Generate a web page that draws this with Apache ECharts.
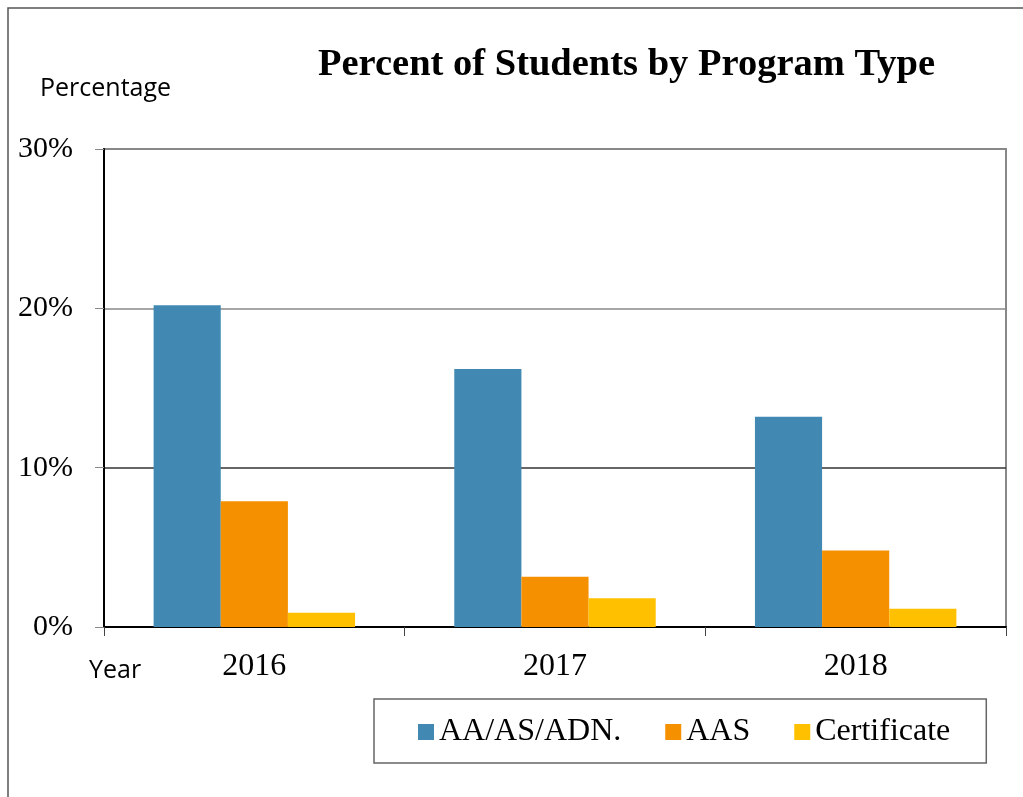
<!DOCTYPE html>
<html>
<head>
<meta charset="utf-8">
<script src="https://cdn.jsdelivr.net/npm/echarts@6/dist/echarts.min.js"></script>
<style>
  html, body { margin: 0; padding: 0; background: #fff; }
  #chart { width: 1023px; height: 797px; }
</style>
</head>
<body>
<div id="chart"></div>
<script>
// data (percent)
var years = ["2016", "2017", "2018"];
var aaAsAdn = [20.2, 16.2, 13.2];
var aas = [7.9, 3.15, 4.8];
var certificate = [0.9, 1.8, 1.15];
var seriesNames = ["AA/AS/ADN.", "AAS", "Certificate"];
var colors = ["#4189B3", "#F59100", "#FFC000"];

var serif = "'Liberation Serif', 'Times New Roman', serif";

var myChart = echarts.init(document.getElementById("chart"));
var option = {
  backgroundColor: "#fff",
  color: colors,
  title: [
    {
      text: "Percent of Students by Program Type",
      left: 313,
      top: 41,
      textStyle: { fontFamily: serif, fontSize: 38.5, fontWeight: "bold", color: "#000" }
    },
    {
      text: "Percentage",
      left: 35,
      top: 71,
      textStyle: { fontFamily: "'Open Sans', sans-serif", fontSize: 25, fontWeight: "normal", color: "#000" }
    },
    {
      text: "Year",
      left: 84,
      top: 653,
      textStyle: { fontFamily: "'Open Sans', sans-serif", fontSize: 25, fontWeight: "normal", color: "#000" }
    }
  ],
  graphic: [
    {
      // outer frame of the picture
      type: "rect",
      shape: { x: 8, y: 8, width: 1030, height: 800 },
      style: { fill: "none", stroke: "#555", lineWidth: 1.5 },
      silent: true
    }
  ],
  legend: {
    data: seriesNames,
    left: 374,
    top: 699,
    padding: [17, 36, 15, 44],
    itemGap: 44,
    itemWidth: 16,
    itemHeight: 16,
    icon: "rect",
    borderColor: "#666",
    borderWidth: 1.5,
    textStyle: { fontFamily: serif, fontSize: 32, color: "#000" }
  },
  grid: {
    left: 104,
    right: 17,
    top: 149,
    bottom: 170,
    show: true,
    borderColor: "#888",
    borderWidth: 2
  },
  xAxis: {
    type: "category",
    data: years,
    axisLine: { lineStyle: { color: "#000", width: 2 } },
    axisTick: { show: true, length: 9, lineStyle: { color: "#444" } },
    axisLabel: { fontFamily: serif, fontSize: 32, color: "#000", margin: 24 }
  },
  yAxis: {
    type: "value",
    min: 0,
    max: 30,
    interval: 10,
    axisLine: { show: true, lineStyle: { color: "#000", width: 2 } },
    axisTick: { show: true, length: 9, lineStyle: { color: "#888" } },
    axisLabel: { fontFamily: serif, fontSize: 30, color: "#000", margin: 31, formatter: "{value}%", lineHeight: 36, verticalAlign: "middle", padding: [4, 0, 0, 0] },
    splitLine: { lineStyle: { color: ["#333", "#333", "#888", "#888"], width: 1.5 } }
  },
  series: [
    { name: seriesNames[0], type: "bar", data: aaAsAdn, barGap: "0%", barCategoryGap: "33%" },
    { name: seriesNames[1], type: "bar", data: aas, barGap: "0%", barCategoryGap: "33%" },
    { name: seriesNames[2], type: "bar", data: certificate, barGap: "0%", barCategoryGap: "33%" }
  ]
};
myChart.setOption(option, true);
</script>
</body>
</html>
